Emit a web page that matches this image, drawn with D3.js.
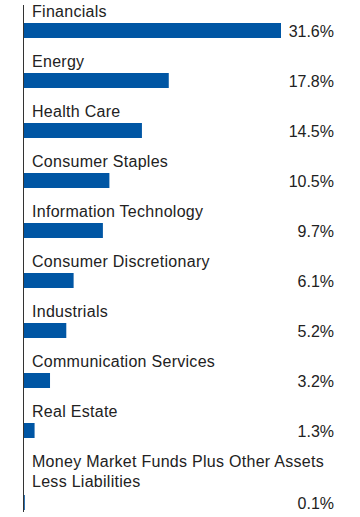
<!DOCTYPE html>
<html>
<head>
<meta charset="utf-8">
<script src="https://cdn.jsdelivr.net/npm/d3@7"></script>
<style>
  html, body { margin: 0; padding: 0; background: #fff; }
  svg { display: block; }
  text { font-family: "Liberation Sans", Arial, sans-serif; fill: #222; }
</style>
</head>
<body>
<div id="chart"></div>
<script>
const categories = [
  "Financials",
  "Energy",
  "Health Care",
  "Consumer Staples",
  "Information Technology",
  "Consumer Discretionary",
  "Industrials",
  "Communication Services",
  "Real Estate",
  "Money Market Funds Plus Other Assets Less Liabilities"
];
const values = [31.6, 17.8, 14.5, 10.5, 9.7, 6.1, 5.2, 3.2, 1.3, 0.1];
const labelLines = [
  ["Financials"],
  ["Energy"],
  ["Health Care"],
  ["Consumer Staples"],
  ["Information Technology"],
  ["Consumer Discretionary"],
  ["Industrials"],
  ["Communication Services"],
  ["Real Estate"],
  ["Money Market Funds Plus Other Assets", "Less Liabilities"]
];

const W = 360, H = 517;
const axisX = 23, lineH = 20, barH = 15;
const svg = d3.select("#chart").append("svg").attr("width", W).attr("height", H);

const x = d3.scaleLinear().domain([0, 31.6]).range([axisX + 1, 281]);
const y = d3.scaleBand().domain(categories).range([0, 500]).paddingInner(0).paddingOuter(0);

const data = categories.map((c, i) => ({ c, v: values[i], lines: labelLines[i] }));
const barTop = d => y(d.c) + 23 + (d.lines.length - 1) * lineH + (d.lines.length > 1 ? 2 : 0);

const g = svg.append("g");

g.selectAll("rect.bar").data(data).enter().append("rect")
  .attr("class", "bar")
  .attr("x", x(0))
  .attr("y", d => barTop(d))
  .attr("width", d => Math.max(0, x(d.v) - x(0)))
  .attr("height", barH)
  .attr("fill", "#0056a4");

const lbl = g.selectAll("text.lbl").data(data).enter().append("text")
  .attr("class", "lbl")
  .attr("x", 32)
  .attr("y", d => y(d.c) + 17)
  .attr("font-size", 16)
  .attr("letter-spacing", 0.28);
lbl.selectAll("tspan").data(d => d.lines).enter().append("tspan")
  .attr("x", 32)
  .attr("dy", (l, i) => i === 0 ? 0 : lineH)
  .text(l => l);

g.selectAll("text.val").data(data).enter().append("text")
  .attr("class", "val")
  .attr("x", 334)
  .attr("y", d => barTop(d) + 13.5)
  .attr("text-anchor", "end")
  .attr("font-size", 16)
  .text(d => d.v.toFixed(1) + "%");

svg.append("line")
  .attr("x1", axisX + 0.5).attr("x2", axisX + 0.5)
  .attr("y1", 5).attr("y2", 512)
  .attr("stroke", "#333").attr("stroke-width", 1);
</script>
</body>
</html>
